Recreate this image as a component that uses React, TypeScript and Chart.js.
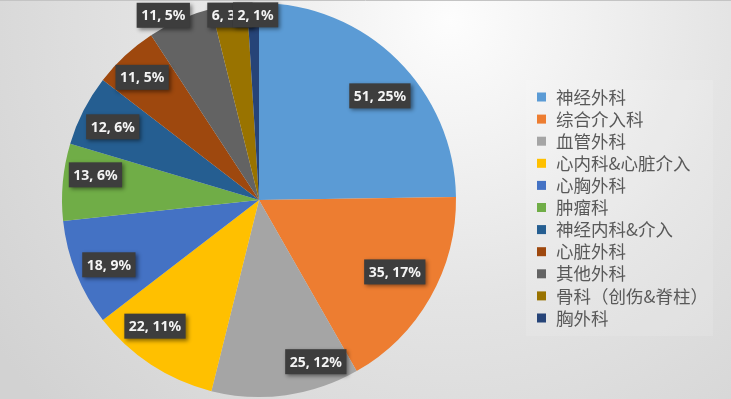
import React, { useEffect, useRef } from "react";
import { Chart, registerables } from "chart.js";

Chart.register(...registerables);

const categories = [
  "神经外科",
  "综合介入科",
  "血管外科",
  "心内科&心脏介入",
  "心胸外科",
  "肿瘤科",
  "神经内科&介入",
  "心脏外科",
  "其他外科",
  "骨科（创伤&脊柱）",
  "胸外科",
];
const counts = [51, 35, 25, 22, 18, 13, 12, 11, 11, 6, 2];
const percentLabels = ["25%", "17%", "12%", "11%", "9%", "6%", "6%", "5%", "5%", "3%", "1%"];
const colors = [
  "#5B9BD5",
  "#ED7D31",
  "#A5A5A5",
  "#FFC000",
  "#4472C4",
  "#70AD47",
  "#255E91",
  "#9E480E",
  "#636363",
  "#997300",
  "#264478",
];

// label placement tuning: [radius factor, angle delta in degrees]
const labelPlace: [number, number][] = [
  [0.81, 4.7],
  [0.78, -1.8],
  [0.87, -11.5],
  [0.83, 6.3],
  [0.83, -1.5],
  [0.84, 3.5],
  [0.83, -0.5],
  [0.86, -0.8],
  [1.056, -3.8],
  [0.95, -0.2],
  [0.94, 0.7],
];

const bgPlugin = {
  id: "bg",
  beforeDraw(chart: any) {
    const ctx = chart.ctx as CanvasRenderingContext2D;
    const w = chart.width;
    const h = chart.height;
    ctx.save();
    const g = ctx.createRadialGradient(450, 20, 0, 450, 20, 560);
    g.addColorStop(0, "#fdfdfd");
    g.addColorStop(0.5, "#e4e4e4");
    g.addColorStop(1, "#d2d2d2");
    ctx.fillStyle = g;
    ctx.fillRect(0, 0, w, h);
    ctx.strokeStyle = "#c4c4c4";
    ctx.lineWidth = 1;
    ctx.beginPath();
    ctx.moveTo(0, 0.5);
    ctx.lineTo(w, 0.5);
    ctx.stroke();
    // legend panel
    ctx.fillStyle = "rgba(255,255,255,0.12)";
    ctx.fillRect(526, 80, 187, 256);
    ctx.restore();
  },
};

const overlayPlugin = {
  id: "overlay",
  afterDatasetsDraw(chart: any) {
    const ctx = chart.ctx as CanvasRenderingContext2D;
    const meta = chart.getDatasetMeta(0);
    ctx.save();
    // data labels
    ctx.font = "bold 14px 'Noto Sans'";
    ctx.textAlign = "center";
    ctx.textBaseline = "middle";
    meta.data.forEach((arc: any, i: number) => {
      const mid = (arc.startAngle + arc.endAngle) / 2 + (labelPlace[i][1] * Math.PI) / 180;
      const r = arc.outerRadius * labelPlace[i][0];
      const x = arc.x + Math.cos(mid) * r;
      const y = arc.y + Math.sin(mid) * r;
      const text = `${counts[i]}, ${percentLabels[i]}`;
      const tw = ctx.measureText(text).width;
      const bw = tw + 9;
      const bh = 25;
      ctx.save();
      ctx.shadowColor = "rgba(0,0,0,0.45)";
      ctx.shadowBlur = 4;
      ctx.shadowOffsetX = 2;
      ctx.shadowOffsetY = 2;
      ctx.fillStyle = "#3d3d3d";
      ctx.fillRect(x - bw / 2, y - bh / 2, bw, bh);
      ctx.restore();
      ctx.fillStyle = "#f4f4f4";
      ctx.fillText(text, x, y + 1);
    });
    // legend
    ctx.textAlign = "left";
    ctx.font = "17.5px 'Noto Sans CJK SC'";
    const x0 = 537;
    const y0 = 97;
    const step = 22.1;
    categories.forEach((c, i) => {
      const y = y0 + i * step;
      ctx.fillStyle = colors[i];
      ctx.fillRect(x0, y - 4.5, 9, 9);
      ctx.fillStyle = "#595959";
      ctx.fillText(c, x0 + 19, y);
    });
    ctx.restore();
  },
};

export default function App() {
  const ref = useRef<HTMLCanvasElement>(null);
  useEffect(() => {
    if (!ref.current) return;
    const chart = new Chart(ref.current, {
      type: "pie",
      data: {
        labels: categories,
        datasets: [
          {
            data: counts,
            backgroundColor: colors,
            borderWidth: 0,
          },
        ],
      },
      options: {
        animation: false,
        responsive: false,
        layout: { padding: { left: 62, right: 275, top: 3, bottom: 2 } },
        plugins: {
          legend: { display: false },
          tooltip: { enabled: false },
        },
      },
      plugins: [bgPlugin, overlayPlugin],
    });
    return () => chart.destroy();
  }, []);
  return (
    <div style={{ position: "fixed", left: 0, top: 0, width: 731, height: 399 }}>
      <canvas ref={ref} width={731} height={399} style={{ display: "block" }} />
    </div>
  );
}
